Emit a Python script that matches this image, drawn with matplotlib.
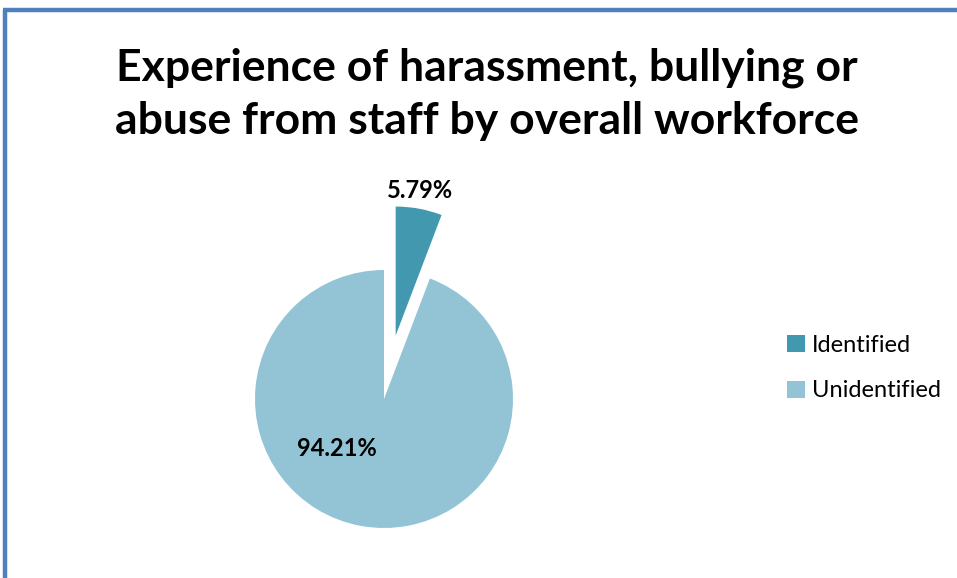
import numpy as np
import matplotlib
matplotlib.use("Agg")
import matplotlib.pyplot as plt
from matplotlib.patches import Patch
from matplotlib.lines import Line2D

plt.rcParams["font.family"] = ["Lato", "DejaVu Sans"]

# Survey shares (%)
categories = ["Identified", "Unidentified"]
shares = [5.79, 94.21]
colors = ["#4298AF", "#93C4D6"]
title = "Experience of harassment, bullying or\nabuse from staff by overall workforce"

W, H = 957, 578
fig = plt.figure(figsize=(W / 100, H / 100), dpi=100)
ax = fig.add_axes([0, 0, 1, 1])
ax.set_xlim(0, W)
ax.set_ylim(0, H)
ax.axis("off")

# chart frame (only the top and left edges fall inside the image)
frame = "#4F81BD"
ax.add_line(Line2D([4.5, 4.5], [0, H - 9.5], color=frame, lw=3.2, solid_capstyle="butt"))
ax.add_line(Line2D([3, W], [H - 9.5, H - 9.5], color=frame, lw=3.2, solid_capstyle="butt"))

cx, cy, r = 384, H - 399, 129
# pie explode is in data units, so scale by the radius
ax.pie(shares, colors=colors, startangle=90, counterclock=False,
       explode=[0.5 * r, 0], center=(cx, cy), radius=r,
       wedgeprops=dict(linewidth=0))
ax.set_xlim(0, W)
ax.set_ylim(0, H)
ax.set_aspect("equal")

# value labels
ax.text(cx + 36, cy + 209, f"{shares[0]:.2f}%", ha="center", va="center",
        fontsize=17, fontweight="bold")
ax.text(cx - 47, cy - 49, f"{shares[1]:.2f}%", ha="center", va="center",
        fontsize=17, fontweight="bold")

fig.text(487 / W, 1 - 94 / H, title, ha="center", va="center",
         fontsize=32, fontweight="bold", linespacing=1.4)

handles = [Patch(facecolor=c, edgecolor="none") for c in colors]
fig.legend(handles, categories, loc="center left", bbox_to_anchor=(766 / W, 1 - 368 / H),
           frameon=False, fontsize=17, handlelength=0.75, handleheight=0.75,
           handletextpad=0.3, labelspacing=1.05)

fig.savefig("out.png", dpi=100)
